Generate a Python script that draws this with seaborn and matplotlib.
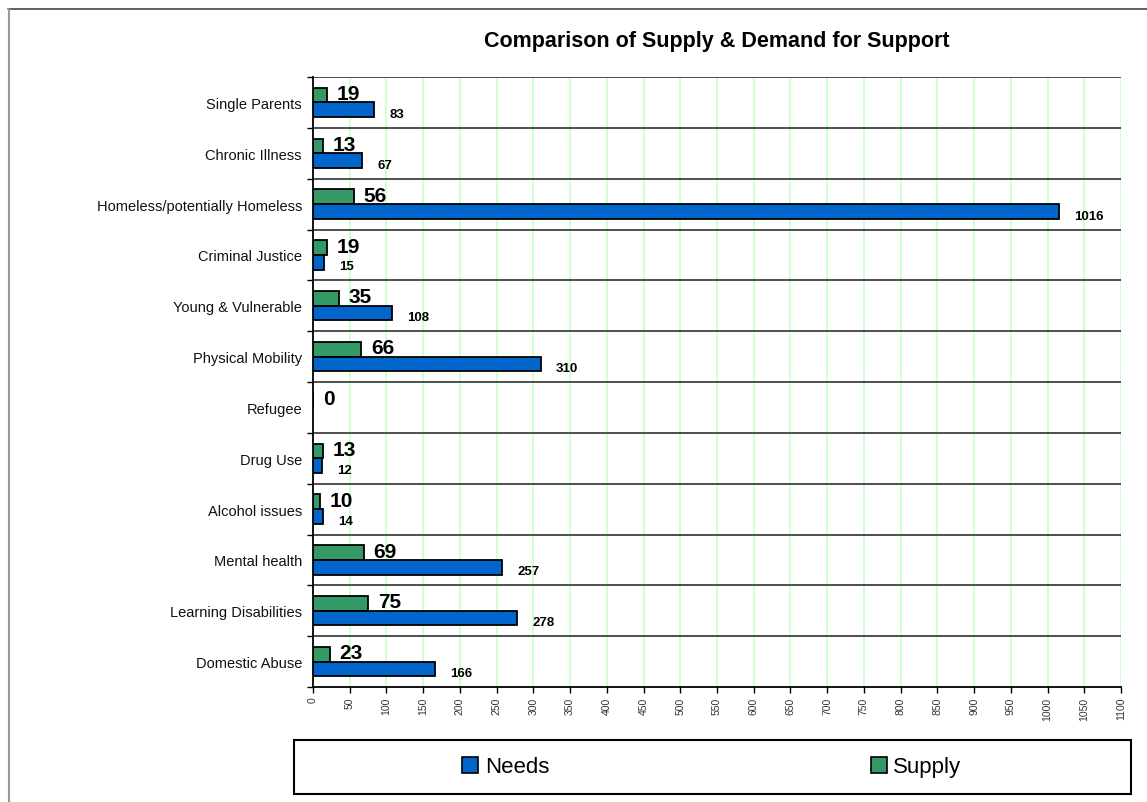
import matplotlib
matplotlib.use("Agg")
import matplotlib.pyplot as plt
from matplotlib.lines import Line2D
from matplotlib.patches import Rectangle, Patch
import seaborn as sns
import pandas as pd
import numpy as np

categories = ["Single Parents", "Chronic Illness", "Homeless/potentially Homeless",
              "Criminal Justice", "Young & Vulnerable", "Physical Mobility", "Refugee",
              "Drug Use", "Alcohol issues", "Mental health", "Learning Disabilities",
              "Domestic Abuse"]
needs = [83, 67, 1016, 15, 108, 310, None, 12, 14, 257, 278, 166]
supply = [19, 13, 56, 19, 35, 66, 0, 13, 10, 69, 75, 23]
x_ticks = list(range(0, 1101, 50))

sns.set_theme(style="white")
plt.rcParams['font.family'] = ['Liberation Sans', 'DejaVu Sans']
plt.rcParams['text.color'] = 'black'
plt.rcParams['axes.labelcolor'] = 'black'
plt.rcParams['ytick.color'] = 'black'
plt.rcParams['xtick.color'] = 'black'

rows = []
for c, n, s in zip(categories, needs, supply):
    rows.append({"Category": c, "Series": "Supply", "Value": s})
    if n is not None:
        rows.append({"Category": c, "Series": "Needs", "Value": n})
df = pd.DataFrame(rows)

blue = "#0066CC"
green = "#339966"

fig = plt.figure(figsize=(11.47, 8.03), dpi=100)
ax = fig.add_axes([313/1147, 1-688/803, (1121-313)/1147, (688-78)/803])

sns.barplot(data=df, y="Category", x="Value", hue="Series", order=categories,
            hue_order=["Supply", "Needs"], palette={"Supply": green, "Needs": blue},
            orient="h", width=0.58, edgecolor="black", linewidth=1.3, saturation=1,
            errorbar=None, legend=False, ax=ax, zorder=3)

ax.set_xlim(0, 1100)
ax.set_ylim(len(categories) - 0.5, -0.5)
ax.set_xticks(x_ticks)
ax.set_xticklabels([str(t) for t in x_ticks], rotation=90, fontsize=7.5, color="#333333")
ax.set_xlabel("")
ax.set_ylabel("")
ax.tick_params(axis="x", direction="out", length=4, width=1, color="black", pad=3, bottom=True)
ax.set_yticks(range(len(categories)))
ax.set_yticklabels(categories, fontsize=10.5, color="#111111")
ax.tick_params(axis="y", length=0, pad=8)
ax.set_yticks(np.arange(-0.5, len(categories), 1.0), minor=True)
ax.tick_params(axis="y", which="minor", direction="out", length=4, width=1, color="black", left=True)

for t in x_ticks[1:]:
    ax.axvline(t, color="#CCFFCC", linewidth=1.3, zorder=1)
for b in np.arange(-0.5, len(categories) - 0.5, 1.0):
    ax.axhline(b, color="#404040", linewidth=1.3, zorder=2)

ax.spines["right"].set_visible(False)
ax.spines["top"].set_visible(False)
ax.spines["left"].set_color("black")
ax.spines["left"].set_linewidth(1.3)
ax.spines["bottom"].set_color("black")
ax.spines["bottom"].set_linewidth(1.3)

# value labels
for i, (c, n, s) in enumerate(zip(categories, needs, supply)):
    ax.annotate(str(s), xy=(s, i - 0.145), xytext=(7, 1), textcoords="offset points",
                ha="left", va="center", fontsize=15, fontweight="bold", color="black", zorder=5)
    if n is not None:
        ax.annotate(str(n), xy=(n, i + 0.145), xytext=(11, -3), textcoords="offset points",
                    ha="left", va="center", fontsize=9.5, fontweight="bold", color="black", zorder=5)

fig.text(0.625, 1 - 42/803, "Comparison of Supply & Demand for Support",
         ha="center", va="center", fontsize=15.5, fontweight="bold", color="black")

# outer frame lines
fig.add_artist(Line2D([8/1147, 1.0], [1 - 10/803, 1 - 10/803], color="#555555", linewidth=1.3,
                      transform=fig.transFigure))
fig.add_artist(Line2D([9/1147, 9/1147], [0, 1 - 10/803], color="#999999", linewidth=1.5,
                      transform=fig.transFigure))

# legend box
fig.add_artist(Rectangle((294/1147, 1 - 795/803), (1131-294)/1147, (795-741)/803,
                         transform=fig.transFigure, fill=False, edgecolor="black", linewidth=1.5))
handles = [Patch(facecolor=blue, edgecolor="black", linewidth=1.2, label="Needs"),
           Patch(facecolor=green, edgecolor="black", linewidth=1.2, label="Supply")]
fig.legend(handles=handles, loc="center", bbox_to_anchor=(712/1147, 1 - 768/803),
           ncol=2, frameon=False, fontsize=16, handlelength=0.7, handleheight=0.7,
           handletextpad=0.3, columnspacing=14.5)

fig.savefig("out.png", dpi=100)
